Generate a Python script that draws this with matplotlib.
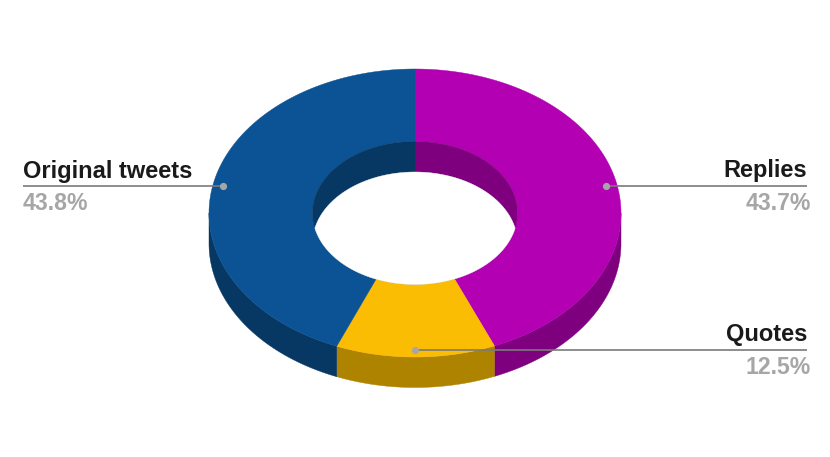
import matplotlib
matplotlib.use("Agg")
import matplotlib.pyplot as plt
import numpy as np

# slices run clockwise from 12 o'clock
categories = ["Replies", "Quotes", "Original tweets"]
shares = [43.7, 12.5, 43.8]
share_labels = ["43.7%", "12.5%", "43.8%"]

top_colors = ["#B300B3", "#FBBC04", "#0B5394"]
side_colors = ["#7E007E", "#AE8300", "#073763"]

# ellipse geometry in pixels
cx, cy = 415.0, 213.0
outer_a, outer_b = 206.0, 144.0
inner_a, inner_b = 102.5, 71.5
depth = 30.5


def ring_xy(a, b, t, shift=0.0):
    return cx + a * np.sin(t), cy - b * np.cos(t) + shift


def wedge(ax, t0, t1, color):
    t = np.linspace(t0, t1, 200)
    x1, y1 = ring_xy(outer_a, outer_b, t)
    x2, y2 = ring_xy(inner_a, inner_b, t[::-1])
    ax.fill(np.r_[x1, x2], np.r_[y1, y2], color=color, lw=0.3, joinstyle="round", zorder=3)


fig = plt.figure(figsize=(8.3, 4.57), dpi=100, facecolor="white")
ax = fig.add_axes([0, 0, 1, 1])
ax.set_xlim(0, 830)
ax.set_ylim(457, 0)
ax.axis("off")

edges = np.radians(np.r_[0, np.cumsum(shares)] / sum(shares) * 360)

# outer wall, only the front half of the ellipse shows
for i in range(len(shares)):
    t0 = max(edges[i], np.pi / 2)
    t1 = min(edges[i + 1], 3 * np.pi / 2)
    if t1 <= t0:
        continue
    t = np.linspace(t0, t1, 200)
    x1, y1 = ring_xy(outer_a, outer_b, t)
    x2, y2 = ring_xy(outer_a, outer_b, t[::-1], depth)
    ax.fill(np.r_[x1, x2], np.r_[y1, y2], color=side_colors[i], lw=0.3, joinstyle="round", zorder=2)

# top face
for i in range(len(shares)):
    wedge(ax, edges[i], edges[i + 1], top_colors[i])

# inner wall is the hole filled dark
for i in range(len(shares)):
    t = np.linspace(edges[i], edges[i + 1], 200)
    x, y = ring_xy(inner_a, inner_b, t)
    ax.fill(np.r_[cx, x], np.r_[cy, y], color=side_colors[i], lw=0.3, joinstyle="round", zorder=4)

# white see-through part: hole ellipse and the same ellipse moved down by depth
t_low = np.arccos(-depth / (2 * inner_b))
t_up = np.arccos(depth / (2 * inner_b))
x1, y1 = ring_xy(inner_a, inner_b, np.linspace(t_low, 2 * np.pi - t_low, 200))
x2, y2 = ring_xy(inner_a, inner_b, np.linspace(-t_up, t_up, 200), depth)
ax.fill(np.r_[x1, x2], np.r_[y1, y2], color="white", lw=0.3, joinstyle="round", zorder=5)

# leader lines: dot on the slice, line out to the label
dots = [(606, 186), (415, 350), (223, 186)]
line_ends = [807, 807, 23]
name_y = [177.5, 341, 178]
pct_y = [210, 374, 210]
pct_x = [811, 811, 23]
for i, cat in enumerate(categories):
    dx, dy = dots[i]
    ax.plot([dx, line_ends[i]], [dy, dy], color="#7A7A7A", lw=1.2, zorder=6, solid_capstyle="butt")
    ax.plot(dx, dy, "o", color="#A6A6A6", ms=5.2, mew=0, zorder=7)
    ha = "left" if line_ends[i] < dx else "right"
    ax.text(line_ends[i], name_y[i], cat, ha=ha, va="baseline", fontsize=17, fontweight="bold",
            family="Liberation Sans", color="#1A1A1A", zorder=8)
    ax.text(pct_x[i], pct_y[i], share_labels[i], ha=ha, va="baseline", fontsize=16.6, fontweight="bold",
            family="Liberation Sans", color="#A6A6A6", zorder=8)

fig.savefig("out.png", dpi=100)
